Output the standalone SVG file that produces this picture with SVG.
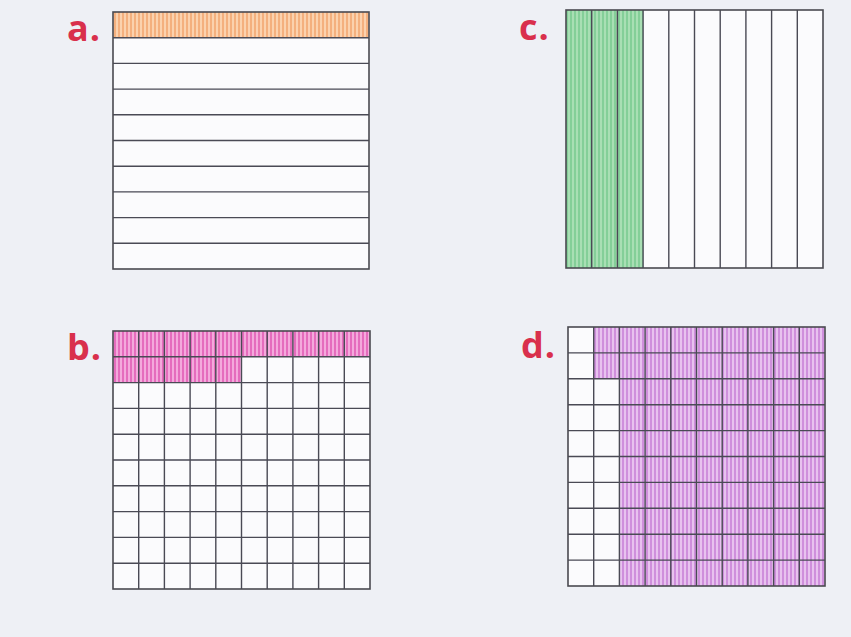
<svg xmlns="http://www.w3.org/2000/svg" width="851" height="637" viewBox="0 0 851 637">
  <style>
    .lbl { font-family: "Open Sans", "Liberation Sans", sans-serif; font-weight: 700; font-size: 36px; fill: #d9304c; letter-spacing: 1px; }
    .grid { fill: none; stroke: #4a4a55; stroke-width: 1.4; }
    .frame { fill: none; stroke: #4a4a50; stroke-width: 1.6; }
    .cell { fill: #fbfbfd; }
  </style>
  <defs>
    <pattern id="pOrange" width="4" height="4" patternUnits="userSpaceOnUse">
      <rect width="4" height="4" fill="#f4b07e"/>
      <rect width="2" height="4" fill="#fbd2ae"/>
    </pattern>
    <pattern id="pGreen" width="4" height="4" patternUnits="userSpaceOnUse">
      <rect width="4" height="4" fill="#84cf98"/>
      <rect width="2" height="4" fill="#a9dfb4"/>
    </pattern>
    <pattern id="pPink" width="4" height="4" patternUnits="userSpaceOnUse">
      <rect width="4" height="4" fill="#e56cbd"/>
      <rect width="2" height="4" fill="#f4a9dc"/>
    </pattern>
    <pattern id="pLilac" width="4" height="4" patternUnits="userSpaceOnUse">
      <rect width="4" height="4" fill="#cf8fdc"/>
      <rect width="2" height="4" fill="#e8c2ef"/>
    </pattern>
  </defs>
  <rect width="851" height="637" fill="#eef0f5"/>

  <g id="grid-a">
    <text class="lbl" x="67" y="41">a.</text>
    <rect class="cell" x="113" y="12" width="256" height="257"/>
    <rect x="113" y="12" width="256" height="25.7" fill="url(#pOrange)"/>
    <path class="grid" d="M113 37.7H369M113 63.4H369M113 89.1H369M113 114.8H369M113 140.5H369M113 166.2H369M113 191.9H369M113 217.6H369M113 243.3H369"/>
    <rect class="frame" x="113" y="12" width="256" height="257"/>
  </g>

  <g id="grid-b">
    <text class="lbl" x="67" y="360">b.</text>
    <rect class="cell" x="113" y="331" width="257" height="258"/>
    <path d="M113 331H370V356.8H241.5V382.6H113Z" fill="url(#pPink)"/>
    <path class="grid" d="M138.7 331V589M164.4 331V589M190.1 331V589M215.8 331V589M241.5 331V589M267.2 331V589M292.9 331V589M318.6 331V589M344.3 331V589M113 356.8H370M113 382.6H370M113 408.4H370M113 434.2H370M113 460H370M113 485.8H370M113 511.6H370M113 537.4H370M113 563.2H370"/>
    <rect class="frame" x="113" y="331" width="257" height="258"/>
  </g>

  <g id="grid-c">
    <text class="lbl" x="519" y="40">c.</text>
    <rect class="cell" x="566" y="10" width="257" height="258"/>
    <rect x="566" y="10" width="77.1" height="258" fill="url(#pGreen)"/>
    <path class="grid" d="M591.7 10V268M617.4 10V268M643.1 10V268M668.8 10V268M694.5 10V268M720.2 10V268M745.9 10V268M771.6 10V268M797.3 10V268"/>
    <rect class="frame" x="566" y="10" width="257" height="258"/>
  </g>

  <g id="grid-d">
    <text class="lbl" x="521" y="358">d.</text>
    <rect class="cell" x="568" y="327" width="257" height="259"/>
    <path d="M593.7 327H825V586H619.4V378.8H593.7Z" fill="url(#pLilac)"/>
    <path class="grid" d="M593.7 327V586M619.4 327V586M645.1 327V586M670.8 327V586M696.5 327V586M722.2 327V586M747.9 327V586M773.6 327V586M799.3 327V586M568 352.9H825M568 378.8H825M568 404.7H825M568 430.6H825M568 456.5H825M568 482.4H825M568 508.3H825M568 534.2H825M568 560.1H825"/>
    <rect class="frame" x="568" y="327" width="257" height="259"/>
  </g>
</svg>
